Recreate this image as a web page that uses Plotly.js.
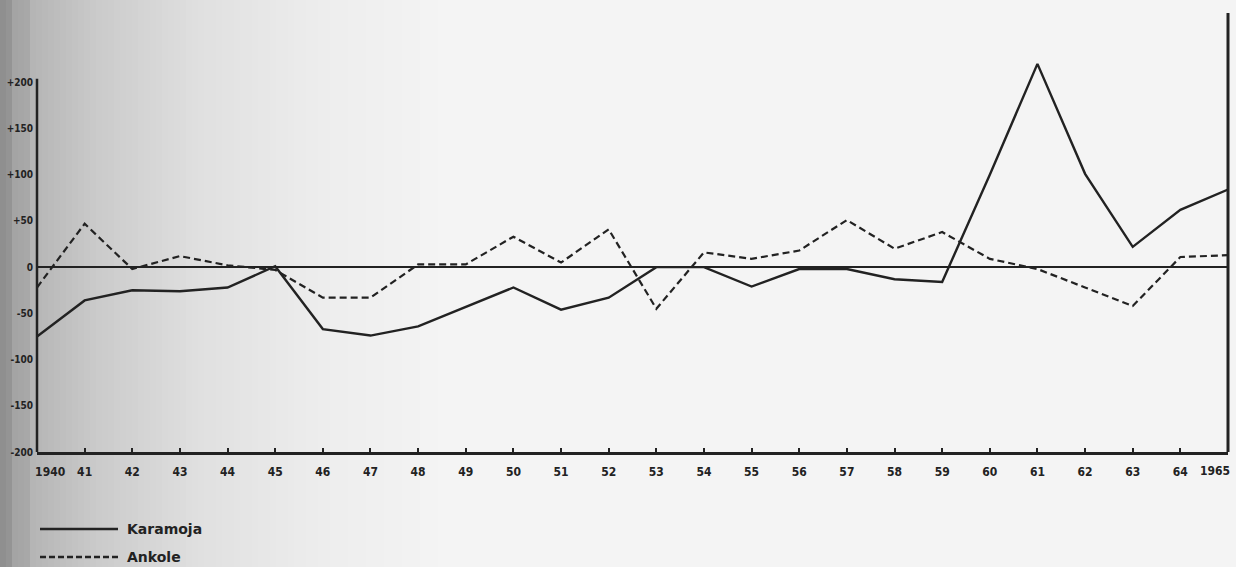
<!DOCTYPE html>
<html>
<head>
<meta charset="utf-8">
<script src="https://cdn.plot.ly/plotly-3.0.1.min.js"></script>
<style>
  html, body { margin: 0; padding: 0; background: #f4f4f4; }
  #chart { width: 1236px; height: 567px; }
</style>
</head>
<body>
<div id="chart"></div>
<script>
// ---- data ----
const years = [1940,1941,1942,1943,1944,1945,1946,1947,1948,1949,1950,1951,1952,
               1953,1954,1955,1956,1957,1958,1959,1960,1961,1962,1963,1964,1965];
const xTickLabels = ['1940','41','42','43','44','45','46','47','48','49','50','51','52',
                     '53','54','55','56','57','58','59','60','61','62','63','64','1965'];
const karamoja = [-75,-36,-25,-26,-22,1,-67,-74,-64,-43,-22,-46,-33,
                  0,0,-21,-2,-2,-13,-16,100,220,101,22,62,84];
const ankole = [-22,47,-2,12,2,-3,-33,-33,3,3,33,5,41,
                -45,16,9,18,51,20,38,9,-2,-22,-42,11,13];
const yTickVals = [-200,-150,-100,-50,0,50,100,150,200];
const yTickLabels = ['-200','-150','-100','-50','0','+50','+100','+150','+200'];
const seriesNames = ['Karamoja','Ankole'];

// ---- layout geometry helpers ----
const W = 1236, H = 567;
const M = {l: 37, r: 8, t: 50, b: 115};
const PW = W - M.l - M.r, PH = H - M.t - M.b;
const fx = px => (px - M.l) / PW;
const fy = py => (H - M.b - py) / PH;

const ink = '#222222';
const fontFam = '"DejaVu Sans Condensed", "Liberation Sans Narrow", "DejaVu Sans", sans-serif';
const legendFont = '"DejaVu Sans", "Liberation Sans", sans-serif';
const tickFont = {family: fontFam, size: 12, color: ink, weight: 'bold'};

// the end labels sit inside the frame in the original
const nb = n => '\u00a0'.repeat(n);
const lastIdx = xTickLabels.length - 1;
const shownXLabels = xTickLabels.map((t, i) =>
  i === 0 ? nb(7) + t : (i === lastIdx ? '' : t));

// scanned-page shading on the left edge (decorative background)
function shade(px) {
  const stops = [[0,140],[9,148],[10,162],[28,168],[30,180],[100,203],[200,224],[320,237],[450,244],[1236,244]];
  for (let i = 0; i < stops.length - 1; i++) {
    const [a, ca] = stops[i], [b, cb] = stops[i+1];
    if (px >= a && px <= b) return Math.round(ca + (cb - ca) * (px - a) / (b - a || 1));
  }
  return 244;
}
const shapes = [];
for (let px = 0; px < 460; px += 6) {
  const g = shade(px + 3);
  shapes.push({type:'rect', xref:'paper', yref:'paper', layer:'below',
    x0: fx(px), x1: fx(px + 6.5), y0: fy(H + 5), y1: fy(-5),
    fillcolor: `rgb(${g},${g},${g})`, line:{width:0}});
}
// left axis line (runs only over the labelled scale)
shapes.push({type:'line', xref:'paper', yref:'y', x0:0, x1:0,
  y0: yTickVals[0], y1: yTickVals[yTickVals.length - 1] + 4,
  line:{color: ink, width: 2.5}});
// right border line of the graph (extends above the plot)
shapes.push({type:'line', xref:'paper', yref:'paper', x0:1, x1:1, y0:0, y1: fy(13),
  line:{color: ink, width: 3}});

const annotations = [];
// last year label, kept inside the frame
annotations.push({xref:'x', yref:'paper', x: years[lastIdx], y: fy(471), xanchor:'right', yanchor:'middle',
  xshift: 4, text: xTickLabels[lastIdx], showarrow:false, font: tickFont});

// custom legend (line samples + labels)
const legendRows = [
  {name: seriesNames[0], y: 529, dash: 'solid'},
  {name: seriesNames[1], y: 557, dash: '6px,3px'}
];
legendRows.forEach(r => {
  shapes.push({type:'line', xref:'paper', yref:'paper', x0: fx(40), x1: fx(118), y0: fy(r.y), y1: fy(r.y),
    line:{color: ink, width: 2.4, dash: r.dash}});
  annotations.push({xref:'paper', yref:'paper', x: fx(125), y: fy(r.y), xanchor:'left', yanchor:'middle',
    text: r.name, showarrow:false, font:{family: legendFont, size: 14, color: ink, weight: 'bold'}});
});

const traces = [
  {x: years, y: karamoja, name: seriesNames[0], type:'scatter', mode:'lines',
   line:{color: ink, width: 2.4}},
  {x: years, y: ankole, name: seriesNames[1], type:'scatter', mode:'lines',
   line:{color: ink, width: 2.2, dash: '7px,4px'}}
];

const layout = {
  width: W, height: H,
  margin: M,
  paper_bgcolor: '#f4f4f4',
  plot_bgcolor: 'rgba(0,0,0,0)',
  showlegend: false,
  xaxis: {
    type: 'linear', range: [1940, 1965], fixedrange: true,
    tickmode: 'array', tickvals: years, ticktext: shownXLabels,
    showline: true, linecolor: ink, linewidth: 2.5,
    ticks: 'inside', ticklen: 4, tickwidth: 2, tickcolor: ink,
    showgrid: false, zeroline: false, automargin: false,
    ticklabelstandoff: 7,
    tickfont: tickFont
  },
  yaxis: {
    range: [-200, 235], fixedrange: true,
    tickmode: 'array', tickvals: yTickVals, ticktext: yTickLabels,
    showline: false,
    ticks: '', showgrid: false, automargin: false,
    zeroline: true, zerolinecolor: ink, zerolinewidth: 2.5,
    ticklabelstandoff: 3,
    tickfont: {family: fontFam, size: 10, color: ink, weight: 'bold'}
  },
  shapes: shapes,
  annotations: annotations
};

Plotly.newPlot('chart', traces, layout, {staticPlot: true, displayModeBar: false});
</script>
</body>
</html>
